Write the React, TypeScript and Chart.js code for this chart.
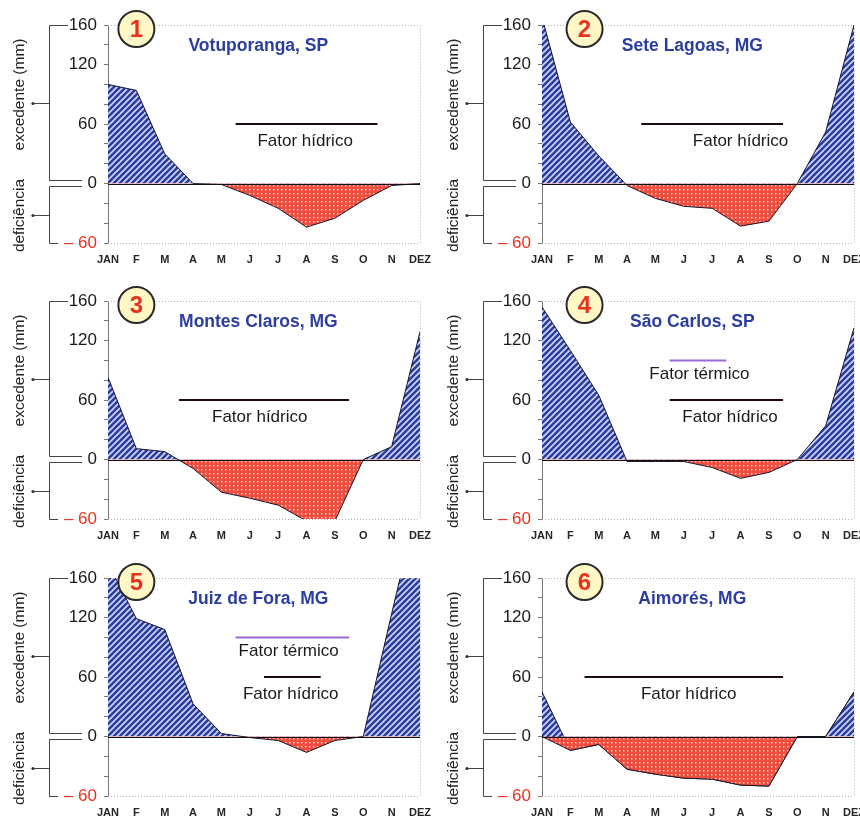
import React, { useEffect, useRef } from 'react';
import { Chart, registerables } from 'chart.js';
Chart.register(...registerables);

// ---------- data ----------
const months = ['JAN', 'F', 'M', 'A', 'M', 'J', 'J', 'A', 'S', 'O', 'N', 'DEZ'];
const yTicks = [-60, -40, -20, 0, 20, 40, 60, 80, 100, 120, 140, 160];
const yLabelTicks = [160, 120, 60, 0, -60];

const votuporanga = [100, 94, 30, 0, -1, -12, -25, -44, -35, -17, -2, 0];
const seteLagoas = [168, 62, 28, -2, -15, -23, -25, -43, -38, 0, 52, 160];
const montesClaros = [83, 11, 8, -9, -33, -39, -46, -62, -62, 0, 13, 129];
const saoCarlos = [154, 110, 65, -2, -2, -2, -8, -19, -13, 0, 34, 133];
const juizDeFora = [175, 119, 108, 33, 3, -1, -4, -16, -4, 0, 124, 245];
const aimores = [0, -14, -8, -33, -38, -42, -43, -49, -50, 0, 0, 45];
const aimoresExcedente = [45, -14, -8, -33, -38, -42, -43, -49, -50, 0, 0, 45];

const titles = ['Votuporanga, SP', 'Sete Lagoas, MG', 'Montes Claros, MG', 'São Carlos, SP', 'Juiz de Fora, MG', 'Aimorés, MG'];
const seriesList = [votuporanga, seteLagoas, montesClaros, saoCarlos, juizDeFora, aimores];
const extraSeries = [null, null, null, null, null, aimoresExcedente];

const hidricoLevel = 60;
const hidricoLabelLevel = 43;
const termicoLevel = 100;
const termicoLabelLevel = 86;
const hidricoRanges = [[4.5, 9.5], [3.5, 8.5], [2.5, 8.5], [4.5, 8.5], [5.5, 7.5], [1.5, 8.5]];
const hidricoLabelX = [6.95, 7.0, 5.35, 6.63, 6.44, 5.17];
const termicoRanges = [null, null, null, [4.5, 6.5], [4.5, 8.5], null];
const termicoLabelX = [null, null, null, 5.55, 6.37, null];
const titleX = 5.3;
const titleY = 139;
const badgeX = [1.0, 1.5, 1.0, 1.5, 1.0, 1.5];

// ---------- layout ----------
const colLefts = [0, 434];
const colWidths = [432, 426];
const rowTops = [0, 276, 553];
const rowHeights = [272, 272, 264];
const AREA_TOP = 25;
const AREA_BOTTOM = 243;
const AREA_LEFT = 108;
const AREA_RIGHT = 420;

const FONT = '"Liberation Sans", Arial, Helvetica, sans-serif';
const RED = '#e8321f';
const BLUE_TEXT = '#2c3da0';

function makeHatch() {
  const c = document.createElement('canvas');
  c.width = 6; c.height = 6;
  const g = c.getContext('2d')!;
  g.fillStyle = '#2e3d9e';
  g.fillRect(0, 0, 6, 6);
  g.strokeStyle = 'rgba(215,225,255,0.95)';
  g.lineWidth = 1.6;
  g.beginPath();
  g.moveTo(-1, 7); g.lineTo(7, -1);
  g.moveTo(-1, 1); g.lineTo(1, -1);
  g.moveTo(5, 7); g.lineTo(7, 5);
  g.stroke();
  return g.createPattern(c, 'repeat')!;
}

function makeDots() {
  const c = document.createElement('canvas');
  c.width = 4; c.height = 4;
  const g = c.getContext('2d')!;
  g.fillStyle = '#f24c3c';
  g.fillRect(0, 0, 4, 4);
  g.fillStyle = 'rgba(255,255,255,0.95)';
  g.fillRect(1, 1, 1.4, 1.4);
  return g.createPattern(c, 'repeat')!;
}

function makeDecor(idx: number) {
  return {
    id: 'decor' + idx,
    afterDatasetsDraw(chart: any) {
      const { ctx, chartArea: a, scales } = chart;
      const x = scales.x, y = scales.y;
      const y0 = Math.round(y.getPixelForValue(0)) + 0.5;
      const yT = Math.round(y.getPixelForValue(160)) + 0.5;
      const yB = Math.round(y.getPixelForValue(-60)) + 0.5;
      ctx.save();
      // dotted frame
      ctx.strokeStyle = '#b4b4b4';
      ctx.lineWidth = 1;
      ctx.setLineDash([1, 2]);
      ctx.beginPath();
      ctx.moveTo(a.left, yT); ctx.lineTo(a.right, yT);
      ctx.moveTo(Math.round(a.right) + 0.5, yT); ctx.lineTo(Math.round(a.right) + 0.5, yB);
      ctx.moveTo(a.left, yB); ctx.lineTo(a.right, yB);
      ctx.stroke();
      ctx.setLineDash([]);
      // zero line
      ctx.strokeStyle = '#111';
      ctx.lineWidth = 1.2;
      ctx.beginPath();
      ctx.moveTo(a.left, y0); ctx.lineTo(a.right, y0);
      ctx.stroke();

      // factor labels
      ctx.fillStyle = '#1a1a1a';
      ctx.font = '17px ' + FONT;
      ctx.textAlign = 'center';
      ctx.textBaseline = 'middle';
      ctx.fillText('Fator hídrico', x.getPixelForValue(hidricoLabelX[idx]), y.getPixelForValue(hidricoLabelLevel));
      if (termicoLabelX[idx] != null) {
        ctx.fillText('Fator térmico', x.getPixelForValue(termicoLabelX[idx]), y.getPixelForValue(termicoLabelLevel));
      }

      // title
      ctx.fillStyle = BLUE_TEXT;
      ctx.font = 'bold 17.5px ' + FONT;
      ctx.fillText(titles[idx], x.getPixelForValue(titleX), y.getPixelForValue(titleY));

      // badge
      const bx = x.getPixelForValue(badgeX[idx]);
      const by = a.top + 4;
      ctx.beginPath();
      ctx.arc(bx, by, 18, 0, Math.PI * 2);
      ctx.fillStyle = '#fff8c6';
      ctx.fill();
      ctx.lineWidth = 2;
      ctx.strokeStyle = '#2a2a2a';
      ctx.stroke();
      ctx.fillStyle = RED;
      ctx.font = 'bold 24px ' + FONT;
      ctx.fillText(String(idx + 1), bx, by + 1);

      // left brackets
      ctx.strokeStyle = '#444';
      ctx.lineWidth = 1;
      const bxL = 49.5;
      ctx.beginPath();
      ctx.moveTo(68, yT); ctx.lineTo(bxL, yT); ctx.lineTo(bxL, y0 - 4); ctx.lineTo(82, y0 - 4);
      ctx.moveTo(82, y0 + 2); ctx.lineTo(bxL, y0 + 2); ctx.lineTo(bxL, yB); ctx.lineTo(58, yB);
      const midE = Math.round((yT + y0 - 4) / 2) + 0.5;
      const midD = Math.round((y0 + 2 + yB) / 2) + 0.5;
      ctx.moveTo(33, midE); ctx.lineTo(bxL, midE);
      ctx.moveTo(33, midD); ctx.lineTo(bxL, midD);
      ctx.stroke();
      ctx.fillStyle = '#333';
      ctx.beginPath(); ctx.arc(33, midE, 1.6, 0, Math.PI * 2); ctx.fill();
      ctx.beginPath(); ctx.arc(33, midD, 1.6, 0, Math.PI * 2); ctx.fill();

      // rotated axis titles
      ctx.fillStyle = '#222';
      ctx.font = '15.5px ' + FONT;
      ctx.save();
      ctx.translate(20, midE - 9);
      ctx.rotate(-Math.PI / 2);
      ctx.fillText('excedente (mm)', 0, 0);
      ctx.restore();
      ctx.save();
      ctx.translate(20, midD);
      ctx.rotate(-Math.PI / 2);
      ctx.fillText('deficiência', 0, 0);
      ctx.restore();

      ctx.restore();
    },
  };
}

function buildConfig(idx: number, height: number, width: number, hatch: any, dots: any) {
  const toPts = (arr: number[]) => arr.map((v, i) => ({ x: i, y: v }));
  const datasets: any[] = [
    {
      data: toPts(seriesList[idx]),
      borderColor: '#15152a',
      borderWidth: 1,
      pointRadius: 0,
      tension: 0,
      fill: { target: 'origin', above: hatch, below: dots },
    },
  ];
  const extra = extraSeries[idx];
  if (extra) {
    datasets.push({
      data: toPts(extra),
      borderColor: '#15152a',
      borderWidth: 1,
      pointRadius: 0,
      tension: 0,
      fill: { target: 0, above: hatch, below: hatch },
    });
  }
  const tr = termicoRanges[idx];
  if (tr) {
    datasets.push({
      data: [{ x: tr[0], y: termicoLevel }, { x: tr[1], y: termicoLevel }],
      borderColor: '#9a6ad6',
      borderWidth: 2,
      pointRadius: 0,
      fill: false,
    });
  }
  const hr = hidricoRanges[idx];
  datasets.push({
    data: [{ x: hr[0], y: hidricoLevel }, { x: hr[1], y: hidricoLevel }],
    borderColor: '#1e0c0c',
    borderWidth: 2,
    pointRadius: 0,
    fill: false,
  });

  return {
    type: 'line',
    data: { datasets },
    options: {
      animation: false,
      responsive: false,
      maintainAspectRatio: false,
      devicePixelRatio: 1,
      layout: { padding: { top: AREA_TOP, right: width - AREA_RIGHT, bottom: 0, left: 0 } },
      plugins: { legend: { display: false }, tooltip: { enabled: false }, title: { display: false } },
      scales: {
        x: {
          type: 'linear',
          min: 0,
          max: 11,
          afterBuildTicks: (s: any) => { s.ticks = months.map((_, i) => ({ value: i })); },
          afterFit: (s: any) => { s.height = height - AREA_BOTTOM; s.paddingLeft = 0; s.paddingRight = 0; },
          grid: { display: false, drawTicks: false },
          border: { display: false },
          ticks: {
            autoSkip: false,
            maxRotation: 0,
            minRotation: 0,
            padding: 10,
            color: '#262626',
            font: { family: FONT, size: 11, weight: 'bold' },
            callback: (v: any) => months[Math.round(v)] ?? '',
          },
        },
        y: {
          min: -60,
          max: 160,
          afterBuildTicks: (s: any) => { s.ticks = yTicks.map((v) => ({ value: v })); },
          afterFit: (s: any) => { s.width = AREA_LEFT; s.paddingTop = 0; s.paddingBottom = 0; },
          grid: { display: true, drawOnChartArea: false, drawTicks: true, tickLength: 4, color: '#777' },
          border: { display: true, color: '#777', width: 1 },
          ticks: {
            autoSkip: false,
            padding: 7,
            font: { family: FONT, size: 17 },
            color: (c: any) => (c.tick && c.tick.value < 0 ? RED : '#1a1a1a'),
            callback: (v: any) => {
              if (!yLabelTicks.includes(v)) return '';
              return v < 0 ? '– ' + Math.abs(v) : String(v);
            },
          },
        },
      },
    },
    plugins: [makeDecor(idx)],
  };
}

export default function App() {
  const refs = useRef<(HTMLCanvasElement | null)[]>([]);
  useEffect(() => {
    const hatch = makeHatch();
    const dots = makeDots();
    const charts: Chart[] = [];
    for (let i = 0; i < 6; i++) {
      const c = refs.current[i];
      if (!c) continue;
      const row = Math.floor(i / 2), col = i % 2;
      charts.push(new Chart(c, buildConfig(i, rowHeights[row], colWidths[col], hatch, dots) as any));
    }
    return () => charts.forEach((ch) => ch.destroy());
  }, []);

  return (
    <div style={{ position: 'absolute', left: 0, top: 0, width: 860, height: 817, overflow: 'hidden', background: '#fff' }}>
      {titles.map((_, i) => {
        const row = Math.floor(i / 2), col = i % 2;
        return (
          <canvas
            key={i}
            ref={(el) => { refs.current[i] = el; }}
            width={colWidths[col]}
            height={rowHeights[row]}
            style={{ position: 'absolute', left: colLefts[col], top: rowTops[row], width: colWidths[col], height: rowHeights[row] }}
          />
        );
      })}
    </div>
  );
}
